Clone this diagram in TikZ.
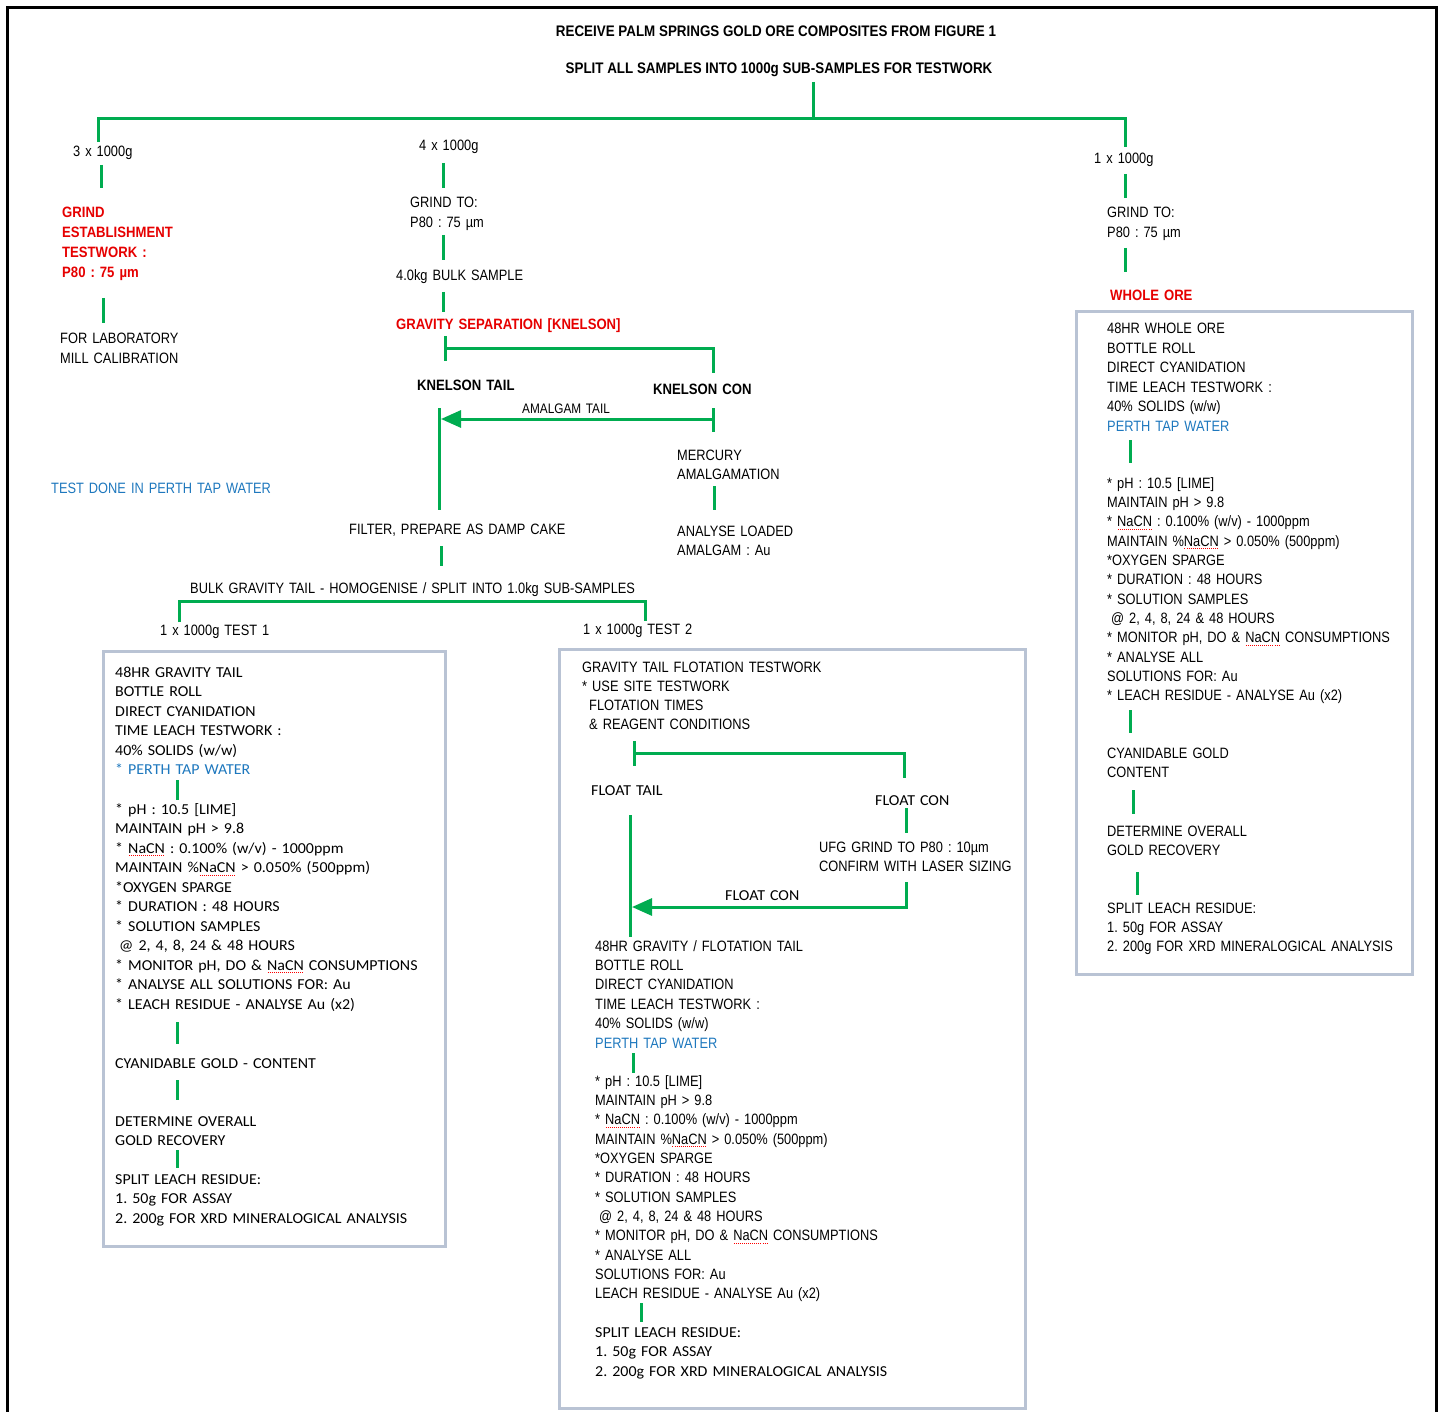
\documentclass[tikz,border=0pt]{standalone}
\usepackage{fontspec}
\usetikzlibrary{arrows.meta}
\newfontfamily\narrow[FakeStretch=0.855]{Liberation Sans}
\newfontfamily\narrowb[FakeStretch=0.875]{Liberation Sans Bold}
\newfontfamily\calf[FakeStretch=1.05]{Carlito}
\definecolor{lgreen}{RGB}{0,172,80}
\definecolor{lred}{RGB}{230,0,0}
\definecolor{lblue}{RGB}{30,120,190}
\definecolor{lbox}{RGB}{185,195,212}
\newsavebox\sqbox
\newcommand\sq[1]{\sbox\sqbox{#1}\hbox{\rlap{\hbox to \wd\sqbox{\color{red}\xleaders\hbox to 2pt{\hss\rule[-3pt]{1pt}{0.7pt}\hss}\hfill}}\usebox\sqbox}}
\tikzset{
  gl/.style={draw=lgreen, line width=3pt},
  bx/.style={draw=lbox, line width=3pt},
  txt/.style={anchor=base west, inner sep=0pt, text width=460pt, align=left,
    font=\narrow\frenchspacing\fontsize{15}{19.4}\selectfont},
  bld/.style={txt, font=\narrowb\frenchspacing\fontsize{15}{19.7}\selectfont},
  cal/.style={txt, font=\calf\frenchspacing\fontsize{15.2}{19.5}\selectfont},
  ttl/.style={anchor=base, inner sep=0pt, font=\narrowb\frenchspacing\fontsize{15.3}{18}\selectfont},
  arr/.style={gl, -{Triangle[length=20pt,width=17pt]}}
}
\begin{document}
\begin{tikzpicture}[x=1pt,y=-1pt]
\useasboundingbox (0,0) rectangle (1442,1412);
\fill[white] (0,0) rectangle (1442,1412);
% outer frame
\draw[line width=3pt] (7,1412) -- (7,8) -- (1436,8) -- (1436,1412);

% titles
\node[ttl] (t1) at (776,37) {RECEIVE PALM SPRINGS GOLD ORE COMPOSITES FROM FIGURE 1};
\node[ttl] (t2) at (779,74) {SPLIT ALL SAMPLES INTO 1000g SUB-SAMPLES FOR TESTWORK};

% left branch
\node[txt] (l1) at (73,157) {3 x 1000g};
\node[bld, text=lred] (l2) at (62,218) {GRIND\\ESTABLISHMENT\\TESTWORK :\\P80 : 75 µm};
\node[txt] (l3) at (60,344) {FOR LABORATORY\\MILL CALIBRATION};
\node[txt, text=lblue] (note) at (51,493) {TEST DONE IN PERTH TAP WATER};

% middle branch
\node[txt] (m1) at (419,151) {4 x 1000g};
\node[txt] (m2) at (410,208) {GRIND TO:\\P80 : 75 µm};
\node[txt] (m3) at (396,281) {4.0kg BULK SAMPLE};
\node[bld, text=lred] (m4) at (396,330) {GRAVITY SEPARATION [KNELSON]};
\node[bld] (kt) at (417,390) {KNELSON TAIL};
\node[bld] (kc) at (653,394) {KNELSON CON};
\node[txt, font=\narrow\fontsize{13.8}{16}\selectfont] (am) at (522,413) {AMALGAM TAIL};
\node[txt] (mer) at (677,460) {MERCURY\\AMALGAMATION};
\node[txt] (ana) at (677,536) {ANALYSE LOADED\\AMALGAM : Au};
\node[txt] (fil) at (349,534) {FILTER, PREPARE AS DAMP CAKE};
\node[txt] (bg) at (190,593) {BULK GRAVITY TAIL - HOMOGENISE / SPLIT INTO 1.0kg SUB-SAMPLES};
\node[txt] (ts1) at (160,635) {1 x 1000g TEST 1};
\node[txt] (ts2) at (583,634) {1 x 1000g TEST 2};

% right branch
\node[txt] (r1) at (1094,164) {1 x 1000g};
\node[txt] (r2) at (1107,218) {GRIND TO:\\P80 : 75 µm};
\node[bld, text=lred] (r3) at (1110,301) {WHOLE ORE};

% boxes
\draw[bx] (103,651) rectangle (445,1246);
\draw[bx] (559,649) rectangle (1025,1408);
\draw[bx] (1076,312) rectangle (1412,974);

% box 1
\node[cal] (a1) at (115,677) {48HR GRAVITY TAIL\\BOTTLE ROLL\\DIRECT CYANIDATION\\TIME LEACH TESTWORK :\\40\% SOLIDS (w/w)\\{}\textcolor{lblue}{* PERTH TAP WATER}};
\node[cal] (a2) at (115,814) {* pH : 10.5 [LIME]\\MAINTAIN pH > 9.8\\{}* \sq{NaCN} : 0.100\% (w/v) - 1000ppm\\MAINTAIN \%\sq{NaCN} > 0.050\% (500ppm)\\{}*OXYGEN SPARGE\\{}* DURATION : 48 HOURS\\{}* SOLUTION SAMPLES\\\hspace*{4pt}@ 2, 4, 8, 24 \& 48 HOURS\\{}* MONITOR pH, DO \& \sq{NaCN} CONSUMPTIONS\\{}* ANALYSE ALL SOLUTIONS FOR: Au\\{}* LEACH RESIDUE - ANALYSE Au (x2)};
\node[cal] (a3) at (115,1068) {CYANIDABLE GOLD - CONTENT};
\node[cal] (a4) at (115,1126) {DETERMINE OVERALL\\GOLD RECOVERY};
\node[cal] (a5) at (115,1184) {SPLIT LEACH RESIDUE:\\1. 50g FOR ASSAY\\2. 200g FOR XRD MINERALOGICAL ANALYSIS};

% box 2
\node[txt, font=\narrow\frenchspacing\fontsize{15}{19.3}\selectfont] (b1) at (582,672) {GRAVITY TAIL FLOTATION TESTWORK\\{}* USE SITE TESTWORK\\\hspace*{7pt}FLOTATION TIMES\\\hspace*{7pt}\& REAGENT CONDITIONS};
\node[cal] (ft) at (591,795) {FLOAT TAIL};
\node[cal] (fc1) at (875,805) {FLOAT CON};
\node[txt] (ufg) at (819,852) {UFG GRIND TO P80 : 10µm\\CONFIRM WITH LASER SIZING};
\node[cal] (fc2) at (725,900) {FLOAT CON};
\node[txt] (b2) at (595,951) {48HR GRAVITY / FLOTATION TAIL\\BOTTLE ROLL\\DIRECT CYANIDATION\\TIME LEACH TESTWORK :\\40\% SOLIDS (w/w)\\\textcolor{lblue}{PERTH TAP WATER}};
\node[txt, font=\narrow\frenchspacing\fontsize{15}{19.36}\selectfont] (b3) at (595,1086) {* pH : 10.5 [LIME]\\MAINTAIN pH > 9.8\\{}* \sq{NaCN} : 0.100\% (w/v) - 1000ppm\\MAINTAIN \%\sq{NaCN} > 0.050\% (500ppm)\\{}*OXYGEN SPARGE\\{}* DURATION : 48 HOURS\\{}* SOLUTION SAMPLES\\\hspace*{4pt}@ 2, 4, 8, 24 \& 48 HOURS\\{}* MONITOR pH, DO \& \sq{NaCN} CONSUMPTIONS\\{}* ANALYSE ALL\\SOLUTIONS FOR: Au\\LEACH RESIDUE - ANALYSE Au (x2)};
\node[cal] (b4) at (595,1337) {SPLIT LEACH RESIDUE:\\1. 50g FOR ASSAY\\2. 200g FOR XRD MINERALOGICAL ANALYSIS};

% box 3
\node[txt] (c1) at (1107,334) {48HR WHOLE ORE\\BOTTLE ROLL\\DIRECT CYANIDATION\\TIME LEACH TESTWORK :\\40\% SOLIDS (w/w)\\\textcolor{lblue}{PERTH TAP WATER}};
\node[txt, font=\narrow\frenchspacing\fontsize{15}{19.36}\selectfont] (c2) at (1107,488) {* pH : 10.5 [LIME]\\MAINTAIN pH > 9.8\\{}* \sq{NaCN} : 0.100\% (w/v) - 1000ppm\\MAINTAIN \%\sq{NaCN} > 0.050\% (500ppm)\\{}*OXYGEN SPARGE\\{}* DURATION : 48 HOURS\\{}* SOLUTION SAMPLES\\\hspace*{4pt}@ 2, 4, 8, 24 \& 48 HOURS\\{}* MONITOR pH, DO \& \sq{NaCN} CONSUMPTIONS\\{}* ANALYSE ALL\\SOLUTIONS FOR: Au\\{}* LEACH RESIDUE - ANALYSE Au (x2)};
\node[txt] (c3) at (1107,758) {CYANIDABLE GOLD\\CONTENT};
\node[txt] (c4) at (1107,836) {DETERMINE OVERALL\\GOLD RECOVERY};
\node[txt] (c5) at (1107,913) {SPLIT LEACH RESIDUE:\\1. 50g FOR ASSAY\\2. 200g FOR XRD MINERALOGICAL ANALYSIS};

% ---- connectors ----
\coordinate (s0) at (813,82);
\coordinate (s1) at (813,119);
\coordinate (hl) at (98,119);
\coordinate (hr) at (1125,119);
\coordinate (hl2) at (98,142);
\coordinate (hr2) at (1125,147);
\draw[gl] (s0) -- (s1);
\draw[gl] (hl2) -- (hl) -- (hr) -- (hr2);

% left
\draw[gl] (101,165) coordinate (la) -- (101,188) coordinate (lb);
\draw[gl] (103,298) coordinate (lc) -- (103,323) coordinate (ld);

% middle
\draw[gl] (443,163) coordinate (ma) -- (443,188) coordinate (mb);
\draw[gl] (443,235) coordinate (mc) -- (443,260) coordinate (md);
\draw[gl] (443,292) coordinate (me) -- (443,312) coordinate (mf);
\draw[gl] (445,336) coordinate (kA) -- (445,361) coordinate (kB);
\draw[gl] (445,348) coordinate (kC) -- (713,348) coordinate (kD) -- (713,373) coordinate (kE);
\draw[gl] (713,408) coordinate (aA) -- (713,432) coordinate (aB);
\draw[arr] (713,419) coordinate (aC) -- (441,419) coordinate (aD);
\draw[gl] (439,408) coordinate (vA) -- (439,510) coordinate (vB);
\draw[gl] (714,486) coordinate (mA) -- (714,510) coordinate (mB);
\draw[gl] (441,546) coordinate (fA) -- (441,566) coordinate (fB);
\draw[gl] (179,622) coordinate (gA) -- (179,601) coordinate (gB) -- (645,601) coordinate (gC) -- (645,621) coordinate (gD);

% right
\draw[gl] (1125,174) coordinate (ra) -- (1125,198) coordinate (rb);
\draw[gl] (1125,248) coordinate (rc) -- (1125,272) coordinate (rd);

% box 1 connectors
\draw[gl] (177,780) coordinate (p1) -- (177,800) coordinate (p2);
\draw[gl] (177,1022) coordinate (p3) -- (177,1044) coordinate (p4);
\draw[gl] (177,1080) coordinate (p5) -- (177,1100) coordinate (p6);
\draw[gl] (177,1150) coordinate (p7) -- (177,1168) coordinate (p8);

% box 2 connectors
\draw[gl] (634,741) coordinate (q1) -- (634,766) coordinate (q2);
\draw[gl] (634,753) coordinate (q3) -- (904,753) coordinate (q4) -- (904,778) coordinate (q5);
\draw[gl] (906,808) coordinate (q6) -- (906,833) coordinate (q7);
\draw[gl] (906,882) coordinate (q8) -- (906,907) coordinate (q9);
\draw[arr] (907.5,907) coordinate (q10) -- (632,907) coordinate (q11);
\draw[gl] (630,815) coordinate (q12) -- (630,937) coordinate (q13);
\draw[gl] (633,1053) coordinate (q14) -- (633,1073) coordinate (q15);
\draw[gl] (641,1303) coordinate (q16) -- (641,1322) coordinate (q17);

% box 3 connectors
\draw[gl] (1130,440) coordinate (w1) -- (1130,463) coordinate (w2);
\draw[gl] (1130,710) coordinate (w3) -- (1130,733) coordinate (w4);
\draw[gl] (1133,790) coordinate (w5) -- (1133,814) coordinate (w6);
\draw[gl] (1137,872) coordinate (w7) -- (1137,895) coordinate (w8);
\end{tikzpicture}
\end{document}
